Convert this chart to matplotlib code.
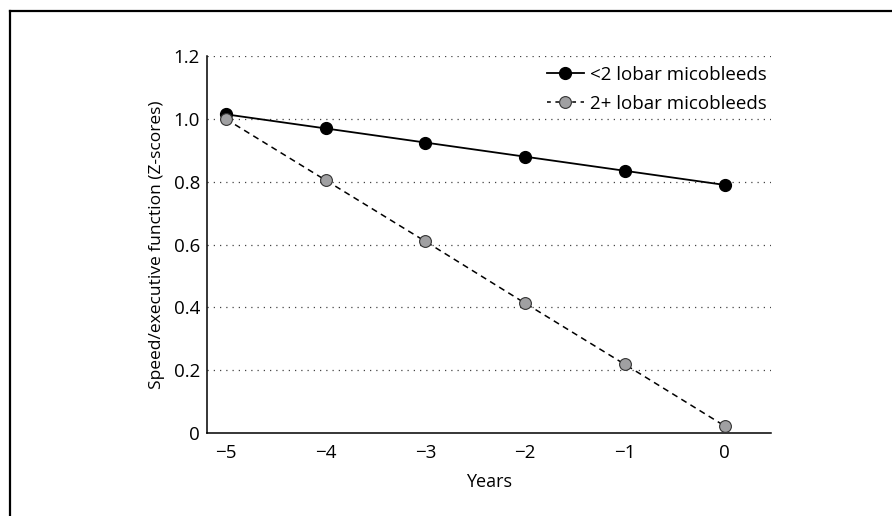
import matplotlib.pyplot as plt
from matplotlib.lines import Line2D

plt.rcParams['font.family'] = ['Open Sans', 'DejaVu Sans']

# Data
years = [-5, -4, -3, -2, -1, 0]
low_mb = [1.015, 0.97, 0.925, 0.88, 0.835, 0.79]
high_mb = [1.0, 0.805, 0.61, 0.413, 0.218, 0.022]
y_ticks = [0, 0.2, 0.4, 0.6, 0.8, 1.0, 1.2]
y_labels = ['0', '0.2', '0.4', '0.6', '0.8', '1.0', '1.2']
x_labels = ['\u22125', '\u22124', '\u22123', '\u22122', '\u22121', '0']

fig = plt.figure(figsize=(8.92, 5.16), dpi=100)
ax = fig.add_axes([0.232, 0.161, 0.632, 0.730])

# grid
for v in y_ticks[1:]:
    ax.axhline(v, color='#444444', linestyle=(0, (1, 4)), linewidth=0.9, zorder=0)

ax.plot(years, high_mb, color='black', linestyle=(0, (4, 3)), linewidth=1.1,
        marker='o', markersize=8.5, markerfacecolor='#a0a0a2', markeredgecolor='#333333',
        markeredgewidth=0.8, zorder=3)
ax.plot(years, low_mb, color='black', linewidth=1.3,
        marker='o', markersize=8.5, markerfacecolor='black', markeredgecolor='black',
        zorder=2)

ax.set_xlim(-5.19, 0.46)
ax.set_ylim(0, 1.2)
ax.set_xticks(years)
ax.set_xticklabels(x_labels)
ax.set_yticks(y_ticks)
ax.set_yticklabels(y_labels)
ax.tick_params(length=0, labelsize=13.5)
ax.tick_params(axis='x', pad=8)
ax.tick_params(axis='y', pad=5)
for s in ['top', 'right']:
    ax.spines[s].set_visible(False)
ax.spines['left'].set_linewidth(1.1)
ax.spines['bottom'].set_linewidth(1.1)

ax.set_xlabel('Years', fontsize=13, labelpad=8)
ax.set_ylabel('Speed/executive function (Z-scores)', fontsize=12.5, labelpad=6)

handles = [
    Line2D([], [], color='black', linewidth=1.3, marker='o', markersize=8.5,
           markerfacecolor='black'),
    Line2D([], [], color='black', linestyle=(0, (2.5, 3)), linewidth=1.1, marker='o',
           markersize=8.5, markerfacecolor='#a0a0a2', markeredgecolor='#333333',
           markeredgewidth=0.8),
]
ax.legend(handles, ['<2 lobar micobleeds', '2+ lobar micobleeds'],
          loc='upper right', bbox_to_anchor=(1.016, 1.01), frameon=False,
          fontsize=13.5, handlelength=2.0, handletextpad=0.3,
          labelspacing=0.6, borderaxespad=0.3)

# outer frame (top and left)
fig.add_artist(Line2D([0.0112, 1.0], [1 - 11 / 516, 1 - 11 / 516], color='black',
                      linewidth=1.6, transform=fig.transFigure))
fig.add_artist(Line2D([0.0112, 0.0112], [0.0, 1 - 11 / 516], color='black',
                      linewidth=1.6, transform=fig.transFigure))

fig.savefig('out.png', dpi=100)
